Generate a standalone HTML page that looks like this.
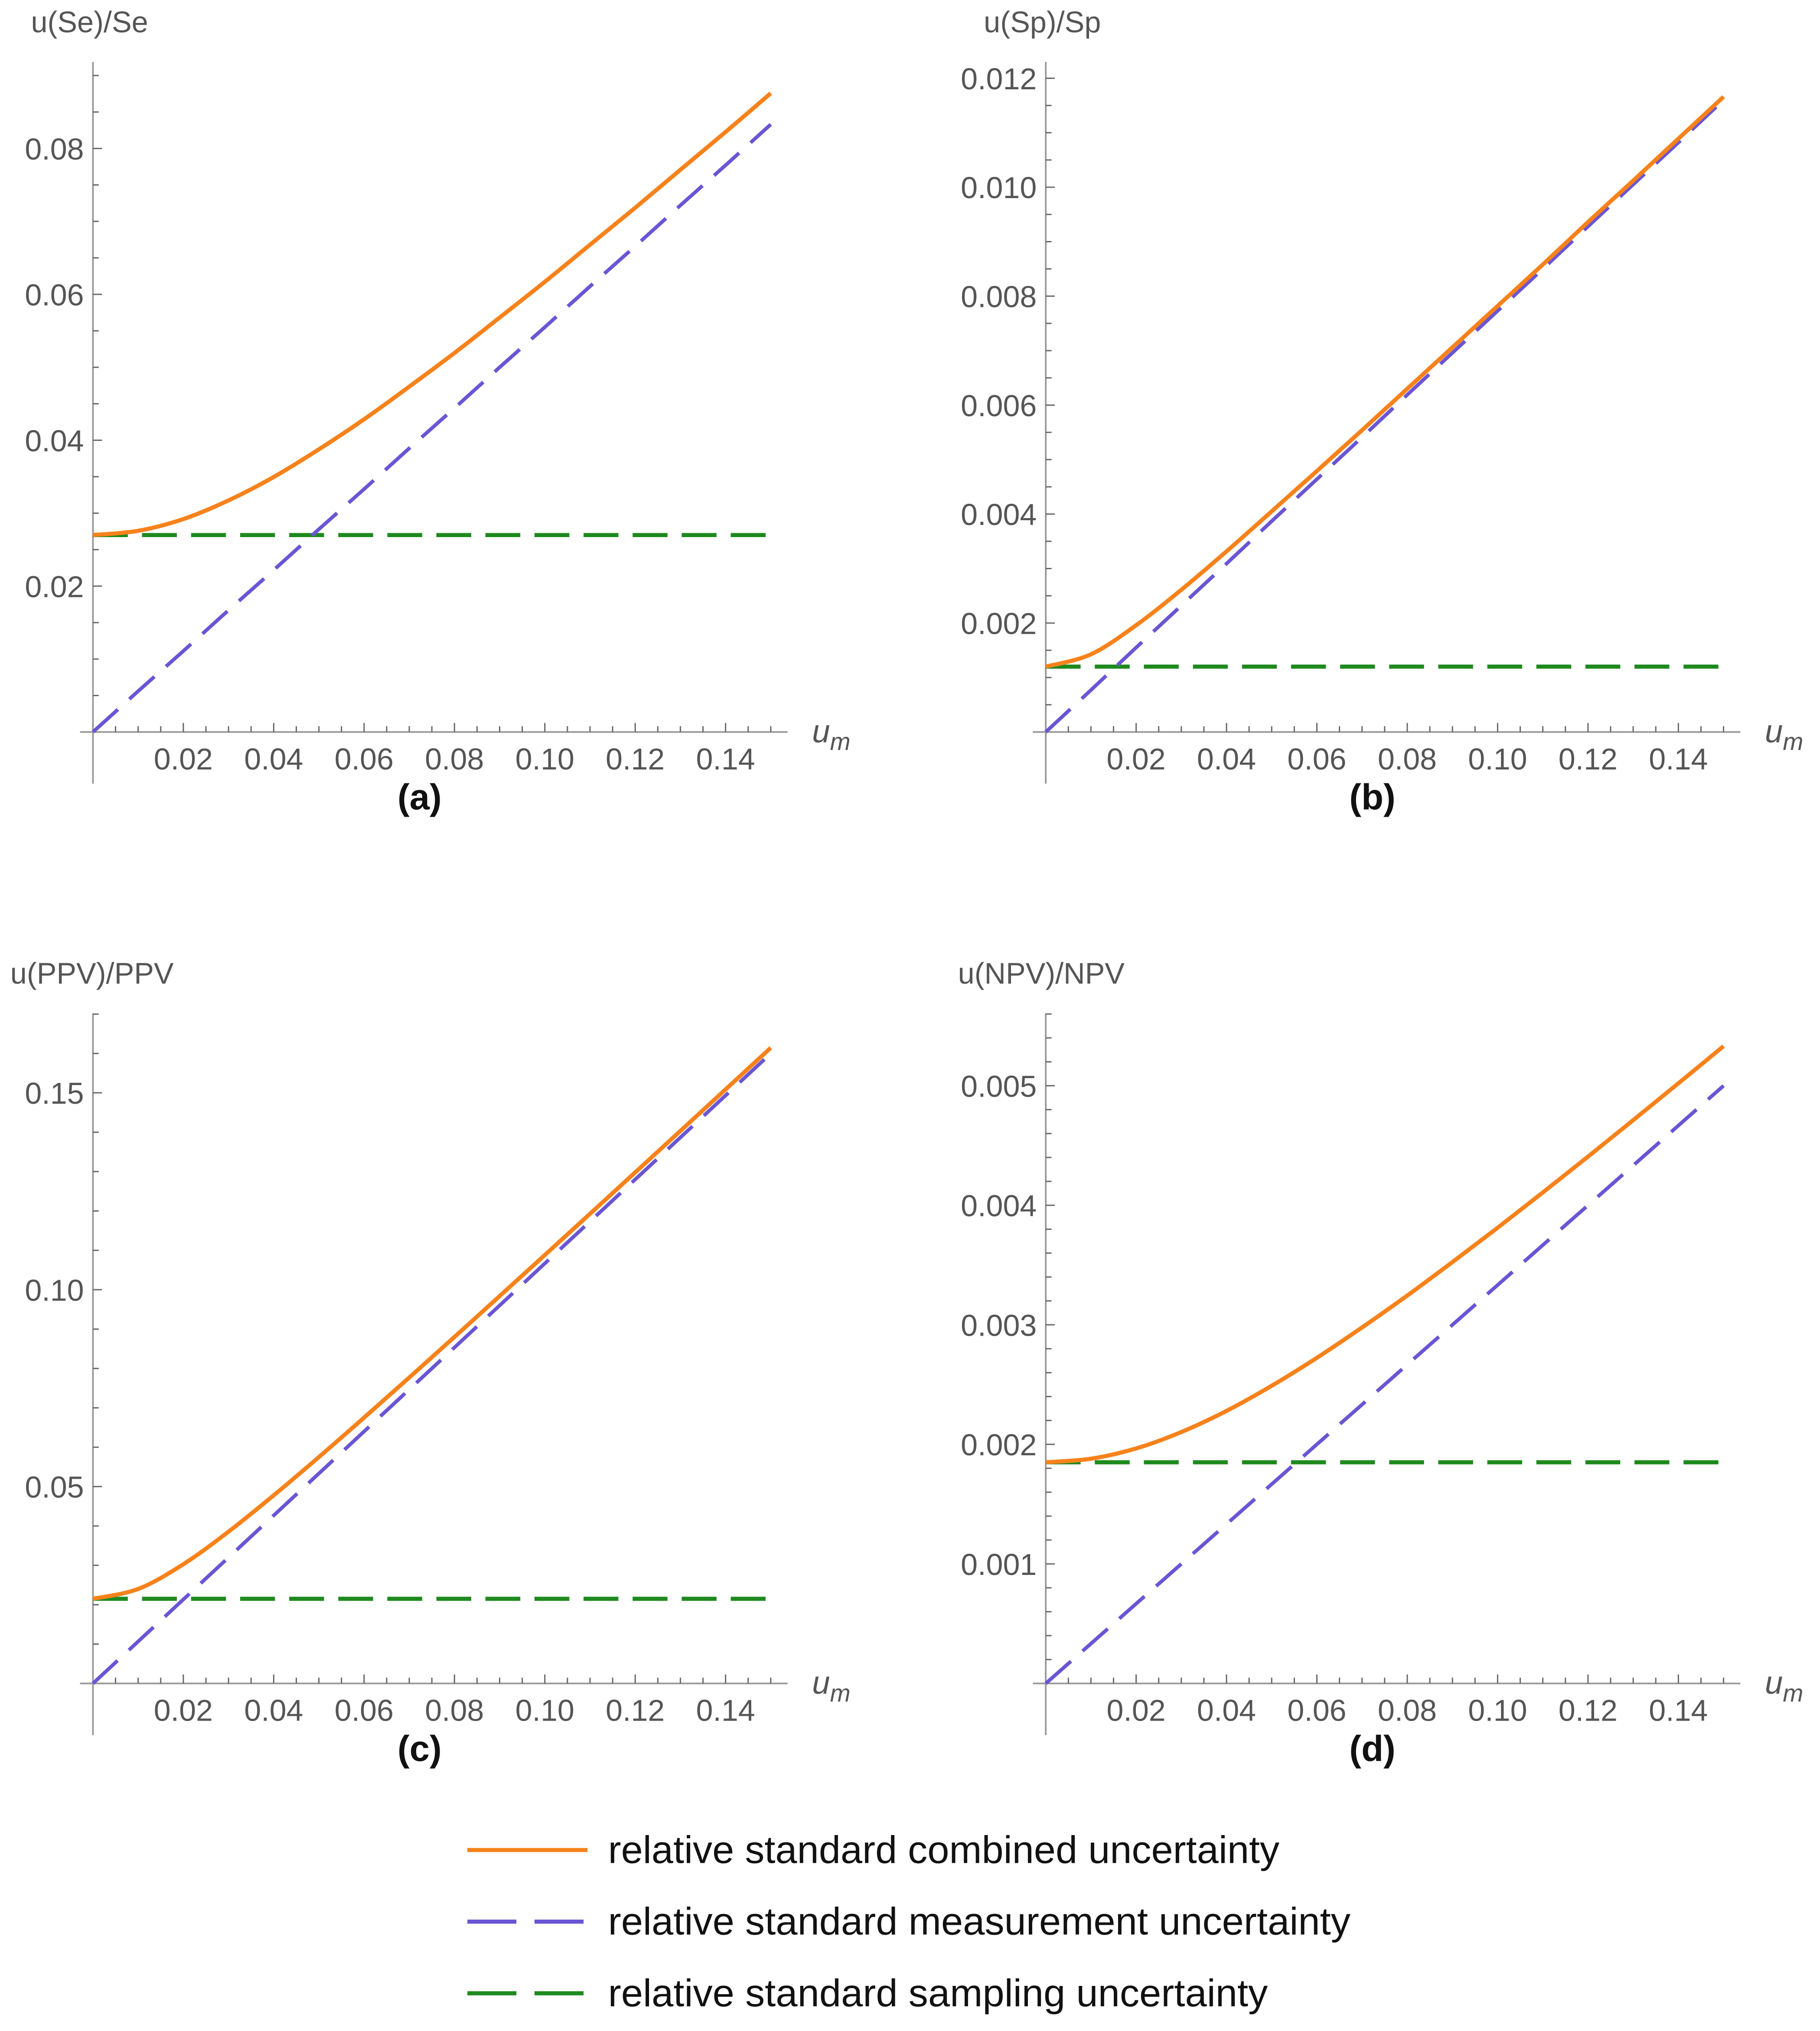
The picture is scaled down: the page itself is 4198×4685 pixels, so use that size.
<!DOCTYPE html>
<html><head><meta charset="utf-8"><style>
html,body{margin:0;padding:0;background:#fff;}
svg{display:block;}
text{font-family:"Liberation Sans",sans-serif;}
</style></head><body>
<svg id="fig" xmlns="http://www.w3.org/2000/svg" width="4198" height="4685" viewBox="0 0 1409.7 1573.2" preserveAspectRatio="none"></svg>
<script>
// shared x values (u_m)
const xValues = [0,0.01,0.02,0.03,0.04,0.05,0.06,0.07,0.08,0.09,0.10,0.11,0.12,0.13,0.14,0.15];
const xTickLabels = ["0.02","0.04","0.06","0.08","0.10","0.12","0.14"];
const xTicks = [0.02,0.04,0.06,0.08,0.10,0.12,0.14];

// panel (a) u(Se)/Se
const aCombined = [0.027,0.02758,0.02919,0.03175,0.03496,0.03875,0.04287,0.04735,0.05196,0.05682,0.06172,0.06680,0.07187,0.07708,0.08226,0.08757];
const aMeasurement = [0,0.0056,0.0111,0.0167,0.0222,0.0278,0.0333,0.0389,0.0444,0.05,0.0555,0.0611,0.0666,0.0722,0.0777,0.0833];
const aSampling = [0.027,0.027];
const aYTicks = [0.02,0.04,0.06,0.08];
const aYTickLabels = ["0.02","0.04","0.06","0.08"];

// panel (b) u(Sp)/Sp
const bCombined = [0.0012,0.001426,0.00196,0.00261,0.003315,0.00405,0.00479,0.00554,0.0063,0.00706,0.00782,0.00858,0.00936,0.01012,0.01089,0.01166];
const bMeasurement = [0,0.00077,0.00155,0.00232,0.00309,0.00387,0.00464,0.00541,0.00619,0.00696,0.00773,0.0085,0.00928,0.01005,0.01082,0.0116];
const bSampling = [0.0012,0.0012];
const bYTicks = [0.002,0.004,0.006,0.008,0.010,0.012];
const bYTickLabels = ["0.002","0.004","0.006","0.008","0.010","0.012"];

// panel (c) u(PPV)/PPV
const cCombined = [0.0215,0.024,0.03028,0.03855,0.04778,0.0575,0.06751,0.0777,0.088,0.09838,0.10881,0.11928,0.12979,0.14033,0.15087,0.16144];
const cMeasurement = [0,0.01067,0.02133,0.032,0.04267,0.05333,0.064,0.07467,0.08533,0.096,0.10667,0.11733,0.128,0.13867,0.14933,0.16];
const cSampling = [0.0215,0.0215];
const cYTicks = [0.05,0.10,0.15];
const cYTickLabels = ["0.05","0.10","0.15"];

// panel (d) u(NPV)/NPV
const dCombined = [0.00185,0.00188,0.001966,0.002103,0.00228,0.00249,0.002724,0.002978,0.003245,0.003525,0.003812,0.004107,0.004407,0.004712,0.00502,0.005331];
const dMeasurement = [0,0.000333,0.000667,0.001,0.001333,0.001667,0.002,0.002333,0.002667,0.003,0.003333,0.003667,0.004,0.004333,0.004667,0.005];
const dSampling = [0.00185,0.00185];
const dYTicks = [0.001,0.002,0.003,0.004,0.005];
const dYTickLabels = ["0.001","0.002","0.003","0.004","0.005"];

const NS = "http://www.w3.org/2000/svg";
const svg = document.getElementById('fig');
const ORANGE = "#f7821b", PURPLE = "#6a55d4", GREEN = "#1e8a1e", AXIS = "#999", TXT = "#555";

function mk(tag, attrs, parent) {
  const e = document.createElementNS(NS, tag);
  for (const k in attrs) e.setAttribute(k, attrs[k]);
  (parent || svg).appendChild(e);
  return e;
}

function panel(cfg) {
  const g = mk('g', {});
  
  
  const ox = cfg.ox, oy = cfg.oy;
  const xs = v => ox + v / 0.01 * 35;
  const ys = v => oy - v * cfg.ppu;
  const xa = mk('line', {x1: ox - 10, y1: oy, x2: ox + 538, y2: oy, stroke: AXIS, 'stroke-width': 1.3}, g);
  
  
  const ya = mk('line', {x1: ox, y1: oy + 40, x2: ox, y2: cfg.top, stroke: AXIS, 'stroke-width': 1.3}, g);
  
  
  for (let i = 1; i <= 30; i++) {
    const v = i * 0.005;
    const major = (i % 4 === 0);
    mk('line', {x1: xs(v), y1: oy, x2: xs(v), y2: oy - (major ? 7 : 4.5), stroke: "#666", 'stroke-width': 1}, g);
  }
  xTicks.forEach((v, i) => {
    const t = mk('text', {x: xs(v), y: oy + 29, 'font-size': 23.5, fill: TXT, 'text-anchor': 'middle'}, g);
    t.textContent = xTickLabels[i];
    
    
  });
  const maxV = (oy - cfg.top) / cfg.ppu;
  for (let i = 1; i * cfg.minor <= maxV + 1e-12; i++) {
    const v = i * cfg.minor;
    const major = (i % cfg.per === 0);
    mk('line', {x1: ox, y1: ys(v), x2: ox + (major ? 7 : 4.5), y2: ys(v), stroke: "#666", 'stroke-width': 1}, g);
  }
  cfg.yTicks.forEach((v, i) => {
    const t = mk('text', {x: ox - 7, y: ys(v) + 8.5, 'font-size': 23.5, fill: TXT, 'text-anchor': 'end'}, g);
    t.textContent = cfg.yLabels[i];
    
    
  });
  const yt = mk('text', {x: cfg.titleX, y: cfg.titleY, 'font-size': 23, fill: TXT}, g);
  yt.textContent = cfg.title;
  
  
  const xt = mk('text', {x: ox + 557, y: oy + 8, 'font-size': 25, fill: TXT, 'font-style': 'italic'}, g);
  
  
  xt.innerHTML = 'u<tspan font-size="19" dy="6">m</tspan>';
  const pl = mk('text', {x: ox + 253, y: oy + 60, 'font-size': 28, fill: '#111', 'font-weight': 'bold', 'text-anchor': 'middle'}, g);
  pl.textContent = '(' + cfg.id + ')';
  
  
  const sm = mk('line', {x1: xs(0), y1: ys(cfg.samp[0]), x2: xs(0.15), y2: ys(cfg.samp[1]), stroke: GREEN, 'stroke-width': 3.2, 'stroke-dasharray': '27,11'}, g);
  
  
  const mp = mk('polyline', {points: xValues.map((x, i) => xs(x) + ',' + ys(cfg.meas[i])).join(' '), fill: 'none', stroke: PURPLE, 'stroke-width': 2.8, 'stroke-dasharray': '26,12'}, g);
  
  
  const P = xValues.map((x, i) => [xs(x), ys(cfg.comb[i])]);
  let d = 'M' + P[0][0] + ',' + P[0][1];
  for (let i = 0; i < P.length - 1; i++) {
    const p0 = P[Math.max(0, i - 1)], p1 = P[i], p2 = P[i + 1], p3 = P[Math.min(P.length - 1, i + 2)];
    d += ' C' + (p1[0] + (p2[0] - p0[0]) / 6) + ',' + (p1[1] + (p2[1] - p0[1]) / 6) + ' ' +
         (p2[0] - (p3[0] - p1[0]) / 6) + ',' + (p2[1] - (p3[1] - p1[1]) / 6) + ' ' + p2[0] + ',' + p2[1];
  }
  const cp = mk('path', {d: d, fill: 'none', stroke: ORANGE, 'stroke-width': 3.2}, g);
  
  
}

panel({id: 'a', ox: 72, oy: 567, top: 48, ppu: 113 / 0.02, minor: 0.005, per: 4, yTicks: aYTicks, yLabels: aYTickLabels, title: 'u(Se)/Se', titleX: 24, titleY: 25, comb: aCombined, meas: aMeasurement, samp: aSampling});
panel({id: 'b', ox: 810, oy: 567, top: 48, ppu: 42.2 / 0.001, minor: 0.0005, per: 4, yTicks: bYTicks, yLabels: bYTickLabels, title: 'u(Sp)/Sp', titleX: 762, titleY: 25, comb: bCombined, meas: bMeasurement, samp: bSampling});
panel({id: 'c', ox: 72, oy: 1304, top: 785, ppu: 152.5 / 0.05, minor: 0.01, per: 5, yTicks: cYTicks, yLabels: cYTickLabels, title: 'u(PPV)/PPV', titleX: 8, titleY: 762, comb: cCombined, meas: cMeasurement, samp: cSampling});
panel({id: 'd', ox: 810, oy: 1304, top: 785, ppu: 92.6 / 0.001, minor: 0.0002, per: 5, yTicks: dYTicks, yLabels: dYTickLabels, title: 'u(NPV)/NPV', titleX: 742, titleY: 762, comb: dCombined, meas: dMeasurement, samp: dSampling});

const legendLabels = ["relative standard combined uncertainty", "relative standard measurement uncertainty", "relative standard sampling uncertainty"];
const legendColors = [ORANGE, PURPLE, GREEN];
const legendDash = ['none', '38,14', '38,14'];
const legendWidths = [520, 575, 511];
const lg = mk('g', {});


legendLabels.forEach((lab, i) => {
  const y = 1433 + i * 55.5;
  const ln = mk('line', {x1: 362, y1: y, x2: 455, y2: y, stroke: legendColors[i], 'stroke-width': 3.2, 'stroke-dasharray': legendDash[i]}, lg);
  
  
  const t = mk('text', {x: 471, y: y + 10, 'font-size': 30, fill: '#111', textLength: legendWidths[i], lengthAdjust: 'spacingAndGlyphs'}, lg);
  t.textContent = lab;
  
  
});
</script>
</body></html>
